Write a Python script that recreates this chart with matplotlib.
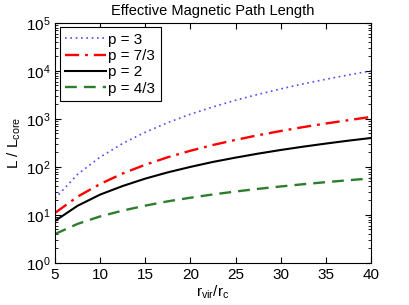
import numpy as np
import matplotlib
matplotlib.use('Agg')
import matplotlib.pyplot as plt

plt.rcParams['font.family'] = ['Liberation Sans', 'DejaVu Sans']
plt.rcParams['mathtext.fontset'] = 'custom'
plt.rcParams['mathtext.rm'] = 'Liberation Sans'
plt.rcParams['mathtext.it'] = 'Liberation Sans'

# r_vir / r_c
rRatio = [5, 7.5, 10, 12.5, 15, 17.5, 20, 22.5, 25, 27.5, 30, 32.5, 35, 37.5, 40]
# L / L_core para cada p
lP3 = [22, 70, 160, 308, 528, 836, 1250, 1780, 2440, 3245, 4215, 5360, 6690, 8230, 10000]
lP73 = [11, 24, 44, 73, 111, 159, 217, 286, 365, 457, 559, 675, 801, 940, 1100]
lP2 = [7.5, 15.5, 26.5, 40, 57, 77, 100, 127, 156, 189, 225, 264, 306, 352, 400]
lP43 = [4.0, 6.5, 9.3, 12.3, 15.6, 19.2, 22.8, 26.7, 30.7, 34.9, 39.1, 43.6, 48.1, 52.8, 57.5]

fig = plt.figure(figsize=(4.09, 3.05), dpi=100)
ax = fig.add_axes([0.1345, 0.138, 0.7725, 0.787])

ax.semilogy(rRatio, lP3, color='#4b4bff', linestyle=(0, (1, 2.2)), linewidth=1.2, label='p = 3')
ax.semilogy(rRatio, lP73, color='red', linestyle=(0, (6, 2.5, 1.2, 2.5)), linewidth=1.7, label='p = 7/3')
ax.semilogy(rRatio, lP2, color='black', linestyle='-', linewidth=1.5, label='p = 2')
ax.semilogy(rRatio, lP43, color='#2e7d2e', linestyle=(0, (5, 3)), linewidth=1.7, label='p = 4/3')

ax.set_xlim(5, 40)
ax.set_ylim(1, 1e5)
ax.set_xticks(range(5, 41, 5))
ax.tick_params(which='both', direction='in', top=True, right=True, labelsize=11)
ax.tick_params(which='major', length=4)
ax.tick_params(which='minor', length=2)

ax.set_title('Effective Magnetic Path Length', fontsize=10.5)
ax.set_xlabel(r'$\mathregular{r_{vir}/r_c}$', fontsize=11, labelpad=1)
ax.set_ylabel(r'$\mathregular{L\ /\ L_{core}}$', fontsize=11, labelpad=2)

leg = ax.legend(loc='upper left', fontsize=11, handlelength=2.7, fancybox=False,
                framealpha=1, edgecolor='black', borderpad=0.35, labelspacing=0.15,
                handletextpad=0.15, borderaxespad=0.3)
leg.get_frame().set_linewidth(0.8)

fig.savefig('out.png', dpi=100)
